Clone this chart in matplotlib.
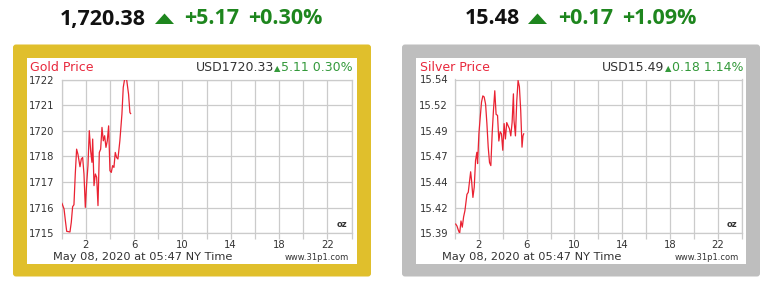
import matplotlib
matplotlib.use("Agg")
import matplotlib.pyplot as plt
from matplotlib.patches import FancyBboxPatch, Polygon
import numpy as np

# ---------------- data ----------------
gold_hours = [0.04, 0.21, 0.32, 0.43, 0.70, 0.81, 0.92, 1.03, 1.14, 1.25, 1.36, 1.53, 1.64, 1.75,
              1.86, 1.97, 2.08, 2.19, 2.30, 2.41, 2.52, 2.58, 2.69, 2.80, 2.91, 3.02, 3.13, 3.24,
              3.35, 3.46, 3.57, 3.68, 3.79, 3.90, 4.01, 4.12, 4.23, 4.34, 4.45, 4.56, 4.67, 4.83,
              5.00, 5.11, 5.22, 5.39, 5.55, 5.66, 5.72]
gold_prices = [1716.36, 1716.11, 1715.58, 1715.09, 1715.06, 1715.50, 1716.21, 1716.30, 1717.70,
               1718.83, 1718.60, 1718.03, 1718.38, 1718.45, 1717.70, 1716.18, 1717.24, 1718.08,
               1719.67, 1718.76, 1718.23, 1719.29, 1717.17, 1717.70, 1717.55, 1716.26, 1718.68,
               1718.83, 1719.82, 1719.21, 1719.44, 1718.91, 1719.21, 1719.89, 1717.85, 1717.77,
               1718.08, 1718.00, 1718.68, 1718.45, 1718.38, 1719.21, 1720.42, 1721.64, 1722.00,
               1722.00, 1721.33, 1720.50, 1720.45]

silver_hours = [0.06, 0.17, 0.28, 0.39, 0.50, 0.61, 0.72, 0.83, 1.00, 1.11, 1.22, 1.31, 1.39, 1.50,
                1.61, 1.72, 1.83, 1.89, 2.00, 2.11, 2.22, 2.33, 2.44, 2.56, 2.67, 2.78, 2.89, 3.00,
                3.11, 3.22, 3.33, 3.44, 3.56, 3.67, 3.78, 3.89, 4.00, 4.11, 4.22, 4.33, 4.44, 4.56,
                4.67, 4.78, 4.89, 4.94, 5.06, 5.17, 5.28, 5.39, 5.50, 5.61, 5.69, 5.75]
silver_prices = [15.399, 15.397, 15.393, 15.390, 15.402, 15.396, 15.406, 15.412, 15.428, 15.430,
                 15.441, 15.450, 15.441, 15.425, 15.435, 15.461, 15.469, 15.458, 15.487, 15.503,
                 15.518, 15.524, 15.523, 15.516, 15.497, 15.474, 15.459, 15.456, 15.487, 15.510,
                 15.529, 15.506, 15.505, 15.480, 15.489, 15.487, 15.471, 15.497, 15.482, 15.498,
                 15.495, 15.492, 15.485, 15.498, 15.526, 15.500, 15.485, 15.519, 15.539, 15.533,
                 15.510, 15.474, 15.485, 15.487]

gold_ylim = (1715.0, 1722.0)
gold_yticklabels = ["1715", "1716", "1717", "1718", "1720", "1721", "1722"]
silver_ylim = (15.39, 15.54)
silver_yticklabels = ["15.39", "15.42", "15.44", "15.47", "15.49", "15.52", "15.54"]

x_ticks = [2, 6, 10, 14, 18, 22]
x_grid = [0, 4, 8, 12, 16, 20, 24]

headline = [
    {"price": "1,720.38", "chg": "+5.17", "pct": "+0.30%"},
    {"price": "15.48", "chg": "+0.17", "pct": "+1.09%"},
]
panel_titles = ["Gold Price", "Silver Price"]
quote_usd = ["USD1720.33", "USD15.49"]
quote_chg = ["5.11 0.30%", "0.18 1.14%"]
caption = "May 08, 2020 at 05:47 NY Time"
site = "www.31p1.com"
unit = "oz"

# ---------------- style ----------------
W, H = 776, 286
DPI = 100
GOLD_FRAME = "#E0BF2C"
SILVER_FRAME = "#BEBEBE"
LINE_RED = "#EA2232"
TITLE_RED = "#E8283C"
GREEN_BIG = "#1E861E"
GREEN_SMALL = "#33993A"
DARK = "#333333"
GRID = "#CBCBCB"

fig = plt.figure(figsize=(W / DPI, H / DPI), dpi=DPI)
fig.patch.set_facecolor("white")

bg = fig.add_axes([0, 0, 1, 1])
bg.set_xlim(0, W)
bg.set_ylim(H, 0)
bg.axis("off")


def fx(px):
    return px / W


def fy(py):
    return 1 - py / H


panels = [
    dict(x0=13, frame=GOLD_FRAME, hours=gold_hours, prices=gold_prices, ylim=gold_ylim,
         ylabels=gold_yticklabels, plot_l=61.5, plot_r=351.5,
         head_x=[60, 155, 184, 248]),
    dict(x0=402, frame=SILVER_FRAME, hours=silver_hours, prices=silver_prices, ylim=silver_ylim,
         ylabels=silver_yticklabels, plot_l=455, plot_r=741.7,
         head_x=[465, 528, 558, 622]),
]

renderer = fig.canvas.get_renderer()


def left_edge(t):
    fig.canvas.draw()
    bb = t.get_window_extent(renderer=renderer)
    return bb.x0


for i, p in enumerate(panels):
    x0 = p["x0"]
    # outer frame
    bg.add_patch(FancyBboxPatch((x0, 44.5), 358, 232, boxstyle="round,pad=0,rounding_size=3",
                                facecolor=p["frame"], edgecolor="none", zorder=1))
    # inner white
    bg.add_patch(FancyBboxPatch((x0 + 14, 57.5), 330, 206, boxstyle="square,pad=0",
                                facecolor="white", edgecolor="none", zorder=2))

    # headline
    hx = p["head_x"]
    h = headline[i]
    bg.text(hx[0], 19, h["price"], fontsize=15.5, fontweight="bold", family="Open Sans",
            color="#111111", ha="left", va="center", zorder=5)
    tw = hx[1]
    bg.add_patch(Polygon([(tw, 24), (tw + 19, 24), (tw + 9.5, 13.5)], closed=True,
                         facecolor=GREEN_BIG, edgecolor="none", zorder=5))
    bg.text(hx[2], 19, h["chg"], fontsize=15.5, fontweight="bold", family="Open Sans",
            color=GREEN_BIG, ha="left", va="center", zorder=5)
    bg.text(hx[3], 19, h["pct"], fontsize=15.5, fontweight="bold", family="Open Sans",
            color=GREEN_BIG, ha="left", va="center", zorder=5)

    # title and quote
    bg.text(x0 + 17.5, 67.5, panel_titles[i], fontsize=9, color=TITLE_RED,
            ha="left", va="center", zorder=5)
    right = p["plot_r"] + 1.5
    tg = bg.text(right, 67.5, quote_chg[i], fontsize=9, color=GREEN_SMALL,
                 ha="right", va="center", zorder=5)
    lx = left_edge(tg)
    tri = bg.text(lx - 0.5, 69, "\u25B2", fontsize=6, color=GREEN_SMALL,
                  ha="right", va="center", zorder=5)
    lx2 = left_edge(tri)
    bg.text(lx2 - 0.5, 67.5, quote_usd[i], fontsize=9, color=DARK,
            ha="right", va="center", zorder=5)

    # caption / site
    bg.text(x0 + 40, 257, caption, fontsize=8.2, color=DARK, ha="left", va="center", zorder=5)
    bg.text(p["plot_r"] - 2.5, 257.5, site, fontsize=6, color=DARK, ha="right", va="center",
            zorder=5)

    # chart axes
    top, bottom = 79.5, 233.3
    ax = fig.add_axes([fx(p["plot_l"]), fy(bottom), fx(p["plot_r"] - p["plot_l"]),
                       (bottom - top) / H])
    ax.set_zorder(3)
    ax.set_facecolor("white")
    ax.plot(p["hours"], p["prices"], color=LINE_RED, lw=0.9, zorder=3)
    ax.set_xlim(0, 24)
    ax.set_ylim(*p["ylim"])
    yt = np.linspace(p["ylim"][0], p["ylim"][1], len(p["ylabels"]))
    ax.set_yticks(yt)
    ax.set_yticklabels(p["ylabels"])
    ax.set_xticks(x_ticks)
    ax.set_xticklabels([str(t) for t in x_ticks])
    ax.set_xticks(x_grid, minor=True)
    ax.grid(True, which="both", color=GRID, lw=0.9)
    ax.tick_params(axis="y", length=0, pad=5, labelsize=7.2, labelcolor=DARK)
    ax.tick_params(axis="x", which="both", length=4, color=GRID, width=0.9, direction="out",
                   pad=1, labelsize=7.2, labelcolor=DARK)
    for s in ax.spines.values():
        s.set_color(GRID)
        s.set_linewidth(0.9)
    ax.text(0.985, 0.03, unit, transform=ax.transAxes, fontsize=6, fontweight="bold",
            color=DARK, ha="right", va="bottom")

fig.savefig("out.png", dpi=DPI, facecolor="white")
